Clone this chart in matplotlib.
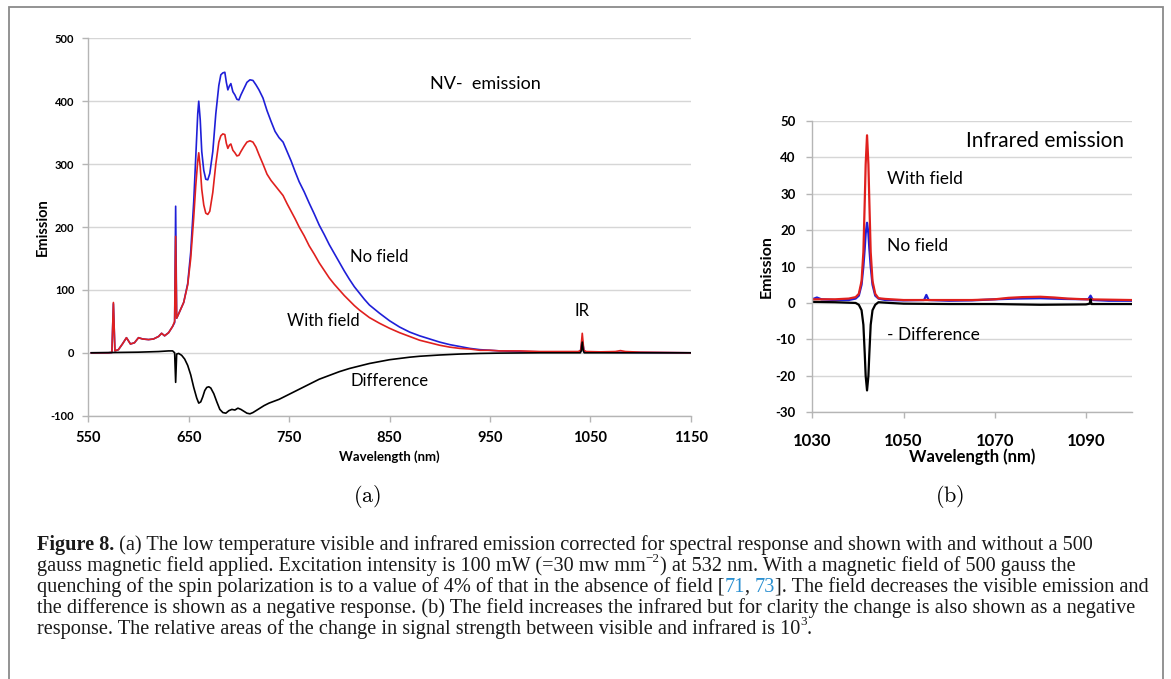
import matplotlib
matplotlib.use("Agg")
import matplotlib.pyplot as plt
from matplotlib.patches import Rectangle

# ---------------- data ----------------
# panel (a) : (wavelength nm, emission)
no_field_a = [
    (553, 0), (570, 0), (573.5, 0.5), (575, 78), (576.5, 3), (580, 5), (584, 14), (588, 24),
    (592, 14), (596, 16), (600, 24), (604, 22), (610, 21), (615, 22), (620, 26), (623, 31),
    (626, 27), (630, 32), (634, 42), (636, 48), (637, 233), (638, 55), (640, 62), (645, 80),
    (649, 110), (652, 160), (655, 240), (657, 310), (659, 380), (660, 400), (661.5, 370),
    (663, 320), (665, 290), (667, 276), (669, 275), (671, 285), (674, 320), (677, 380),
    (680, 425), (682, 442), (684, 445), (686, 446), (687.5, 430), (689, 418), (690.5, 424),
    (692, 428), (694, 415), (696, 410), (698, 403), (700, 402), (702, 410), (705, 420),
    (708, 430), (711, 434), (714, 433), (717, 426), (720, 418), (724, 405), (728, 385),
    (732, 368), (736, 352), (740, 342), (744, 335), (748, 320), (752, 305), (756, 288),
    (760, 272), (765, 256), (770, 238), (775, 221), (780, 203), (785, 188), (790, 172),
    (795, 158), (800, 144), (805, 130), (810, 117), (815, 105), (820, 95), (825, 85),
    (830, 76), (840, 63), (850, 51), (860, 41), (870, 33), (880, 27), (890, 22), (900, 17),
    (910, 13), (920, 10), (930, 7), (940, 5), (950, 4), (960, 3), (980, 2), (1000, 1.5),
    (1020, 1), (1040, 1), (1042, 20), (1044, 1), (1060, 1), (1100, 0.5), (1150, 0),
]
with_field_a = [
    (553, 0), (570, 0), (573.5, 0.5), (575, 80), (576.5, 3), (580, 5), (584, 14), (588, 24),
    (592, 14), (596, 16), (600, 24), (604, 22), (610, 21), (615, 22), (620, 26), (623, 31),
    (626, 27), (630, 32), (634, 42), (636, 50), (637, 185), (638, 55), (640, 62), (645, 80),
    (649, 108), (652, 150), (655, 215), (657, 265), (659, 305), (660, 318), (661.5, 295),
    (663, 260), (665, 235), (667, 222), (669, 220), (671, 225), (674, 255), (677, 300),
    (680, 335), (682, 345), (684, 348), (686, 347), (687.5, 333), (689, 325), (690.5, 330),
    (692, 332), (694, 322), (696, 318), (698, 313), (700, 314), (702, 320), (705, 328),
    (708, 335), (711, 337), (714, 335), (717, 327), (720, 315), (724, 300), (728, 284),
    (732, 274), (736, 266), (740, 258), (744, 250), (748, 237), (752, 225), (756, 213),
    (760, 200), (765, 186), (770, 170), (775, 157), (780, 143), (785, 131), (790, 119),
    (795, 109), (800, 100), (805, 91), (810, 83), (815, 75), (820, 68), (825, 62), (830, 56),
    (840, 47), (850, 39), (860, 32), (870, 26), (880, 20), (890, 16), (900, 12), (910, 9),
    (920, 7), (930, 6), (940, 4), (950, 4), (960, 3), (980, 3), (1000, 2), (1020, 2),
    (1038, 2), (1040.5, 4), (1042, 31), (1043.5, 4), (1046, 2), (1060, 1.5), (1075, 2),
    (1080, 3.5), (1085, 2), (1100, 1), (1150, 0),
]
difference_a = [
    (553, 0), (600, 1), (620, 2), (630, 3), (634, 3), (636, 0), (637, -47), (638, -2),
    (640, -1), (643, -4), (646, -10), (649, -20), (652, -35), (655, -55), (658, -72),
    (660, -80), (662, -78), (664, -70), (666, -60), (668, -55), (670, -54), (672, -56),
    (675, -65), (678, -78), (681, -90), (684, -95), (687, -96), (690, -92), (693, -90),
    (696, -91), (699, -88), (702, -90), (705, -93), (708, -96), (711, -97), (714, -95),
    (717, -92), (720, -89), (725, -84), (730, -80), (735, -77), (740, -74), (745, -70),
    (750, -66), (755, -62), (760, -58), (765, -54), (770, -50), (775, -46), (780, -42),
    (790, -36), (800, -30), (810, -25), (820, -21), (830, -17), (840, -14), (850, -11),
    (860, -9), (870, -7), (880, -5.5), (890, -4.5), (900, -3.5), (920, -2), (940, -1),
    (960, -0.5), (1000, 0), (1040, 0), (1041, 3), (1042, 17), (1043, 3), (1044, 0), (1150, 0),
]

# panel (b) : zoom on the infrared line
no_field_b = [
    (1030, 1), (1031, 1.5), (1032, 1), (1035, 0.8), (1038, 0.8), (1039.5, 1.2), (1040.2, 2),
    (1040.8, 5), (1041.2, 10), (1041.5, 15), (1041.7, 19), (1042, 22), (1042.3, 19),
    (1042.5, 15), (1042.8, 10), (1043.2, 5), (1043.8, 2), (1044.5, 1.2), (1046, 0.8),
    (1050, 0.7), (1054.5, 0.8), (1055, 2.2), (1055.5, 0.8), (1060, 0.6), (1065, 0.7),
    (1070, 1), (1075, 1.2), (1080, 1.3), (1085, 1.1), (1090.5, 1), (1091, 2), (1091.5, 0.8),
    (1095, 0.6), (1100, 0.6),
]
with_field_b = [
    (1030, 1), (1035, 1), (1038, 1.2), (1039.5, 1.6), (1040.2, 2.5), (1040.8, 6),
    (1041.2, 14), (1041.5, 28), (1041.7, 38), (1042, 46), (1042.3, 38), (1042.5, 28),
    (1042.8, 14), (1043.2, 6), (1043.8, 2.5), (1044.5, 1.3), (1046, 1.1), (1050, 0.8),
    (1055, 0.8), (1060, 0.8), (1065, 0.8), (1070, 1), (1073, 1.4), (1076, 1.6), (1080, 1.7),
    (1083, 1.5), (1086, 1.2), (1090, 1), (1095, 0.9), (1100, 0.8),
]
difference_b = [
    (1030, 0.3), (1035, 0.2), (1039.5, 0), (1040.2, -0.5), (1040.8, -2), (1041.2, -6),
    (1041.5, -14), (1041.7, -20), (1042, -24), (1042.3, -20), (1042.5, -14), (1042.8, -6),
    (1043.2, -2), (1043.8, -0.5), (1044.5, 0.2), (1047, 0), (1050, -0.2), (1060, -0.3),
    (1070, -0.3), (1080, -0.5), (1090, -0.4), (1090.8, -0.2), (1091, 1), (1091.2, -0.3),
    (1095, -0.3), (1100, -0.3),
]

xticks_a = [550, 650, 750, 850, 950, 1050, 1150]
yticks_a = [-100, 0, 100, 200, 300, 400, 500]
ytick_labels_a = ["-100", "0", "100", "200", "300", "400", "500"]
xticks_b = [1030, 1050, 1070, 1090]
yticks_b = [-30, -20, -10, 0, 10, 20, 30, 40, 50]
ytick_labels_b = ["-30", "-20", "-10", "0", "10", "20", "30", "40", "50"]

BLUE = "#1f1fd8"
RED = "#e0201e"
GRID = "#d6d6d6"
AXIS = "#b5b5b5"
SANS = "Lato"

W, H = 1171, 679
fig = plt.figure(figsize=(W / 100, H / 100), dpi=100)


def px_axes(left, top, right, bottom):
    return fig.add_axes([left / W, 1 - bottom / H, (right - left) / W, (bottom - top) / H])


def style(ax):
    for s in ["top", "right"]:
        ax.spines[s].set_visible(False)
    for s in ["left", "bottom"]:
        ax.spines[s].set_color(AXIS)
        ax.spines[s].set_linewidth(1.0)
    ax.grid(axis="y", color=GRID, lw=1.0)
    ax.set_axisbelow(True)
    ax.tick_params(direction="out", length=4, width=1, color=AXIS)


def plot_pairs(ax, pairs, color, lw):
    x = [p[0] for p in pairs]
    y = [p[1] for p in pairs]
    ax.plot(x, y, color=color, lw=lw, solid_joinstyle="round")


# ---------------- panel (a) ----------------
ax = px_axes(88.3, 38.3, 690.7, 415.7)
style(ax)
plot_pairs(ax, no_field_a, BLUE, 1.2)
plot_pairs(ax, with_field_a, RED, 1.2)
plot_pairs(ax, difference_a, "black", 1.2)
ax.set_xlim(550, 1150)
ax.set_ylim(-100, 500)
ax.set_xticks(xticks_a)
ax.set_xticklabels([str(v) for v in xticks_a], fontsize=10.5, fontweight="bold", family=SANS)
ax.set_yticks(yticks_a)
ax.set_yticklabels(ytick_labels_a, fontsize=8, fontweight="bold", family=SANS)
ax.tick_params(axis="x", pad=7)
ax.tick_params(axis="y", pad=6)
ax.set_ylabel("Emission", fontsize=10.5, fontweight="bold", family=SANS)
ax.yaxis.set_label_coords((43 - 88.3) / 602.4, 0.5)
ax.set_xlabel("Wavelength (nm)", fontsize=9.5, fontweight="bold", family=SANS)
ax.xaxis.set_label_coords(0.5, (415.7 - 457) / 377.4)
ax.xaxis.label.set_va("center")
ax.yaxis.label.set_va("center")

ax.text(890, 427, "NV-  emission", fontsize=13, family=SANS, va="center")
ax.text(811, 152, "No field", fontsize=12, family=SANS, va="center")
ax.text(748, 51, "With field", fontsize=12, family=SANS, va="center")
ax.text(811, -45, "Difference", fontsize=12, family=SANS, va="center")
ax.text(1042, 66, "IR", fontsize=12, family=SANS, va="center", ha="center")

# ---------------- panel (b) ----------------
bx = px_axes(812.3, 120.7, 1131.6, 412.3)
style(bx)
plot_pairs(bx, no_field_b, BLUE, 1.6)
plot_pairs(bx, with_field_b, RED, 1.6)
plot_pairs(bx, difference_b, "black", 1.6)
bx.set_xlim(1030, 1100)
bx.set_ylim(-30, 50)
bx.set_xticks(xticks_b)
bx.set_xticklabels([str(v) for v in xticks_b], fontsize=12, fontweight="bold", family=SANS)
bx.set_yticks(yticks_b)
bx.set_yticklabels(ytick_labels_b, fontsize=9.5, fontweight="bold", family=SANS)
bx.tick_params(axis="x", pad=11)
bx.tick_params(axis="y", pad=8)
bx.set_ylabel("Emission", fontsize=11.5, fontweight="bold", family=SANS)
bx.yaxis.set_label_coords((767 - 812.3) / 319.3, 0.5)
bx.set_xlabel("Wavelength (nm)", fontsize=12, fontweight="bold", family=SANS)
bx.xaxis.set_label_coords(0.5, (412.3 - 457) / 291.6)
bx.xaxis.label.set_va("center")
bx.yaxis.label.set_va("center")

bx.text(1063.8, 44.3, "Infrared emission", fontsize=15, family=SANS, va="center")
bx.text(1046.3, 34, "With field", fontsize=12.5, family=SANS, va="center")
bx.text(1046.3, 15.7, "No field", fontsize=12.5, family=SANS, va="center")
bx.text(1046.3, -8.8, "- Difference", fontsize=12.5, family=SANS, va="center")

# panel letters
plt.rcParams["mathtext.fontset"] = "cm"
fig.text(367 / W, 1 - 496 / H, r"$\mathrm{(a)}$", fontsize=16, ha="center", va="center")
fig.text(950 / W, 1 - 496 / H, r"$\mathrm{(b)}$", fontsize=16, ha="center", va="center")

# ---------------- caption ----------------
renderer = fig.canvas.get_renderer()
SERIF = "Liberation Serif"


def advance(s, kw):
    t1 = fig.text(0, 0, "|" + s + "|", **kw)
    t2 = fig.text(0, 0, "||", **kw)
    w = t1.get_window_extent(renderer).width - t2.get_window_extent(renderer).width
    t1.remove()
    t2.remove()
    return w


def caption_line(x, y, pieces, size):
    for s, kind in pieces:
        kw = dict(family=SERIF, fontsize=size, color="#1a1a1a")
        rise = 0
        if kind == "bold":
            kw["fontweight"] = "bold"
        elif kind == "blue":
            kw["color"] = "#2a8fd0"
        elif kind == "sup":
            kw["fontsize"] = size * 0.65
            rise = size * 0.42 * 100 / 72
        fig.text(x / W, 1 - (y - rise) / H, s, va="baseline", **kw)
        x += advance(s, kw)


caption = [
    [("Figure 8.", "bold"), (" (a) The low temperature visible and infrared emission corrected for spectral "
                             "response and shown with and without a 500", "")],
    [("gauss magnetic field applied. Excitation intensity is 100 mW (=30 mw mm", ""), ("\u22122", "sup"),
     (") at 532 nm. With a magnetic field of 500 gauss the", "")],
    [("quenching of the spin polarization is to a value of 4% of that in the absence of field [", ""),
     ("71", "blue"), (", ", ""), ("73", "blue"), ("]. The field decreases the visible emission and", "")],
    [("the difference is shown as a negative response. (b) The field increases the infrared but for clarity "
      "the change is also shown as a negative", "")],
    [("response. The relative areas of the change in signal strength between visible and infrared is 10", ""),
     ("3", "sup"), (".", "")],
]

# fit the longest line (third) to the width it has in the figure
ref_w = sum(advance(s, dict(family=SERIF, fontsize=12)) for s, k in caption[2])
cap_size = 12 * (1147 - 37) / ref_w

for i, line in enumerate(caption):
    caption_line(37, 550 + 21 * i, line, cap_size)

# frame round the whole figure
fig.add_artist(Rectangle((9 / W, -0.05), (1163 - 9) / W, 1.05 - 7 / H, transform=fig.transFigure,
                         fill=False, edgecolor="#8a8a8a", lw=1.3))

fig.savefig("out.png", dpi=100)
